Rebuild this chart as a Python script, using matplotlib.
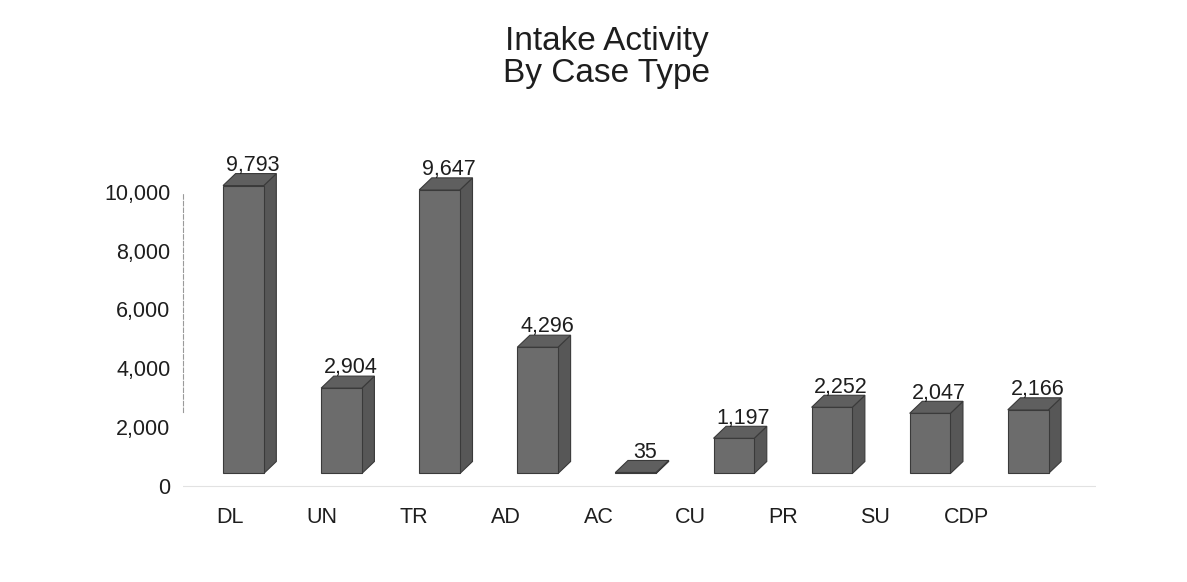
import numpy as np
import matplotlib
matplotlib.use("Agg")
import matplotlib.pyplot as plt
from matplotlib.patches import Polygon

# data
case_types = ["DL", "UN", "TR", "AD", "AC", "CU", "PR", "SU", "CDP"]
intake = [9793, 2904, 9647, 4296, 35, 1197, 2252, 2047, 2166]
y_ticks = [0, 2000, 4000, 6000, 8000, 10000]

plt.rcParams["font.family"] = ["Liberation Sans", "DejaVu Sans"]
txt = "#1e1e1e"

# 3d look: front face sits above the wall where the tick values live
shift = 420          # wall ticks are drawn this much below the front face
w = 0.415            # front face width
dx, dy = 0.128, 408  # depth offset of top / side faces
front_c, side_c, top_c, edge_c = "#6c6c6c", "#575757", "#5f5f5f", "#3a3a3a"

fig = plt.figure(figsize=(11.87, 5.82), dpi=100)
ax = fig.add_axes([0.1542, 0.1581, 0.7692, 0.6014])

x = np.arange(len(case_types))
ax.bar(x, intake, width=w, align="edge", color=front_c, edgecolor=edge_c,
       linewidth=0.8, zorder=3)
for xi, v in zip(x, intake):
    l, r = xi, xi + w
    top = Polygon([(l, v), (r, v), (r + dx, v + dy), (l + dx, v + dy)],
                  closed=True, facecolor=top_c, edgecolor=edge_c, lw=0.8, zorder=3)
    side = Polygon([(r, 0), (r + dx, dy), (r + dx, v + dy), (r, v)],
                   closed=True, facecolor=side_c, edgecolor=edge_c, lw=0.8, zorder=2)
    ax.add_patch(side)
    ax.add_patch(top)
    ax.annotate(f"{v:,}", (xi + (w + dx) / 2 + 0.03, v + dy), xytext=(0, 2),
                textcoords="offset points", ha="center", va="baseline",
                fontsize=15.5, color=txt)

ax.set_xlim(-0.408, 8.9)
ax.set_ylim(-561, 11344)

# category labels drift left of the bars (perspective)
ax.set_xticks(x * 0.939 + 0.071)
ax.set_xticklabels(case_types, fontsize=15.5, color=txt)
ax.set_yticks([t - shift for t in y_ticks])
ax.set_yticklabels([f"{t:,}" for t in y_ticks], fontsize=15.5, color=txt)
ax.tick_params(length=0)
ax.tick_params(axis="y", pad=9)
ax.tick_params(axis="x", pad=12)

for s in ["top", "right", "bottom"]:
    ax.spines[s].set_visible(False)
ax.spines["left"].set_color("#9a9a9a")
ax.spines["left"].set_linestyle((0, (4, 2)))
ax.spines["left"].set_linewidth(0.8)
ax.spines["left"].set_bounds(2500 - shift, 10000 - shift)
ax.axhline(-shift, color="#e2e2e2", lw=0.8, zorder=1)

fig.text(0.511, 0.901, "Intake Activity\nBy Case Type", ha="center", va="center",
         fontsize=24, color=txt, linespacing=1.05)

fig.savefig("out.png", dpi=100, facecolor="white")
